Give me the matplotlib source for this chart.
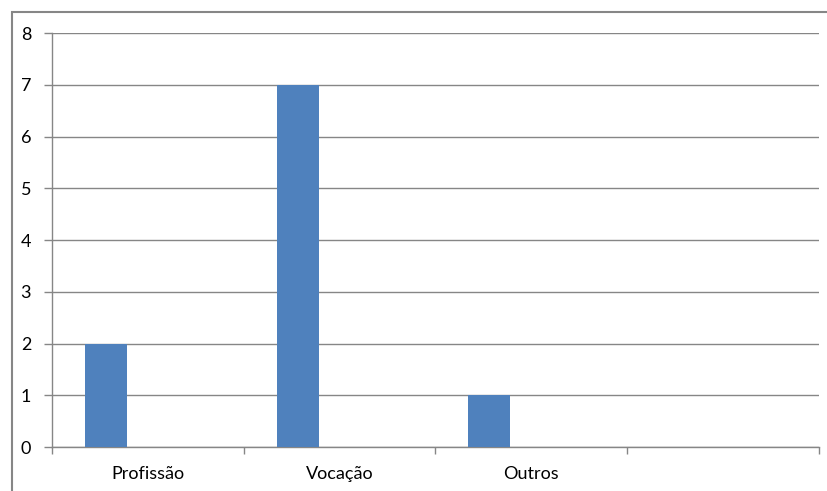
import matplotlib
matplotlib.use("Agg")
import matplotlib.pyplot as plt
from matplotlib.patches import Rectangle
import numpy as np

# Dados
categorias = ["Profissão", "Vocação", "Outros", ""]
valores = [2, 7, 1, 0]
y_ticks = [0, 1, 2, 3, 4, 5, 6, 7, 8]

W, H = 828, 491
COR_BARRA = "#4F81BD"
COR_LINHA = "#868686"

plt.rcParams["font.family"] = ["Lato", "DejaVu Sans"]

fig = plt.figure(figsize=(W / 100, H / 100), dpi=100)
ax = fig.add_axes([52 / W, (H - 447) / H, (819 - 52) / W, (447 - 33) / H])

x = np.arange(len(categorias))
larg = 0.219
ax.bar(x[:3] - larg, valores[:3], width=larg, color=COR_BARRA, zorder=3)

ax.set_xlim(-0.5, len(categorias) - 0.5)
ax.set_ylim(0, 8)
ax.set_yticks(y_ticks)
ax.set_yticklabels([str(v) for v in y_ticks], fontsize=13)
ax.yaxis.grid(True, color=COR_LINHA, lw=1.0, zorder=0)

# rótulos no centro das categorias, marcas nas divisões
ax.set_xticks(np.arange(len(categorias) + 1) - 0.5)
ax.set_xticklabels([])
ax.set_xticks(x, minor=True)
ax.set_xticklabels(categorias, minor=True, fontsize=13)
ax.tick_params(axis="x", which="minor", length=0, pad=14)
ax.tick_params(axis="x", which="major", length=5, color=COR_LINHA, width=1)
ax.tick_params(axis="y", length=6, color=COR_LINHA, width=1, pad=9)

for lado in ["top", "right"]:
    ax.spines[lado].set_visible(False)
for lado in ["left", "bottom"]:
    ax.spines[lado].set_color(COR_LINHA)
    ax.spines[lado].set_linewidth(1)

# borda da área do gráfico
fig.patches.append(Rectangle((12 / W, -0.1), 1.2, (H - 12) / H + 0.1,
                             transform=fig.transFigure, fill=False,
                             edgecolor=COR_LINHA, lw=1.5))

fig.savefig("out.png", dpi=100)
